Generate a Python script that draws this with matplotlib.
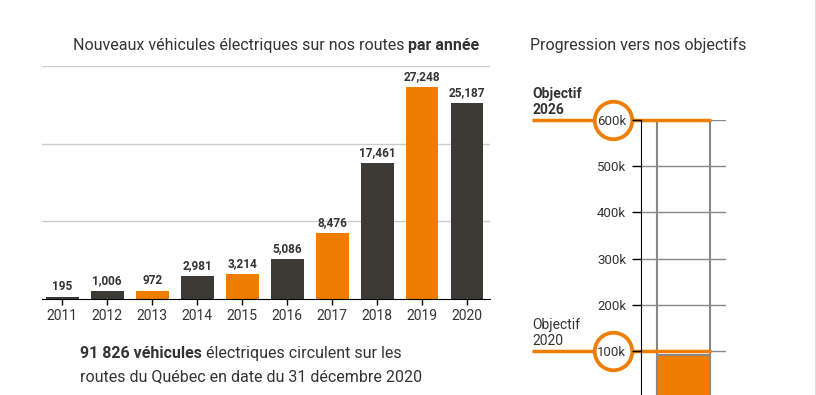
import matplotlib
matplotlib.use('Agg')
import matplotlib.pyplot as plt
from matplotlib import transforms
from matplotlib.lines import Line2D

matplotlib.rcParams['font.family'] = ['Roboto', 'DejaVu Sans']

# --- données ---
annees = [2011, 2012, 2013, 2014, 2015, 2016, 2017, 2018, 2019, 2020]
nouveaux = [195, 1006, 972, 2981, 3214, 5086, 8476, 17461, 27248, 25187]
annees_orange = [2013, 2015, 2017, 2019]
total_2020 = 91826
objectifs = [100000, 600000]
noms_objectifs = ['Objectif\n2020', 'Objectif\n2026']
graduations = [100000, 200000, 300000, 400000, 500000, 600000]

ORANGE = '#ee7d00'
FONCE = '#3d3935'
TEXTE = '#333333'
W, H = 816, 395


def px(x0, y0, x1, y1):
    return [x0 / W, 1 - y1 / H, (x1 - x0) / W, (y1 - y0) / H]


fig = plt.figure(figsize=(W / 100, H / 100), dpi=100)
fig.patch.set_facecolor('white')

# --- graphique de gauche : nouveaux véhicules par année ---
ax = fig.add_axes(px(42, 66, 490, 299))
pos = list(range(len(annees)))
couleurs = [ORANGE if a in annees_orange else FONCE for a in annees]
ax.bar(pos, nouveaux, width=0.73, color=couleurs, zorder=2)
for x, v in zip(pos, nouveaux):
    ax.annotate(f"{v:,}", (x, v), xytext=(0, 4), textcoords='offset pixels',
                ha='center', va='bottom', fontsize=8.5, fontweight='bold', color=TEXTE)

ax.set_xlim(-0.45, 9.51)
ax.set_ylim(0, 30000)
ax.set_yticks([10000, 20000, 30000])
ax.yaxis.grid(True, color='#cccccc', lw=1)
ax.set_axisbelow(True)
ax.tick_params(axis='y', length=0, labelleft=False)
ax.set_xticks(pos, [str(a) for a in annees])
ax.tick_params(axis='x', length=4, width=1, pad=3, labelsize=10, labelcolor=TEXTE)
for s in ['top', 'right', 'left']:
    ax.spines[s].set_visible(False)
ax.spines['bottom'].set_color('black')

t1 = fig.text(73 / W, 1 - 50 / H, "Nouveaux véhicules électriques sur nos routes ",
              fontsize=11.5, color=TEXTE, va='baseline')
ax.annotate("par année", xy=(1, 0), xycoords=t1, va='bottom', ha='left',
            fontsize=11.5, fontweight='bold', color=TEXTE, annotation_clip=False)

nb = f"{total_2020:,}".replace(',', ' ')
b1 = fig.text(80 / W, 1 - 358 / H, f"{nb} véhicules", fontsize=11.5,
              fontweight='bold', color=TEXTE, va='baseline')
ax.annotate(" électriques circulent sur les", xy=(1, 0), xycoords=b1, va='bottom',
            ha='left', fontsize=11.5, color=TEXTE, annotation_clip=False)
fig.text(80 / W, 1 - 381 / H, "routes du Québec en date du 31 décembre 2020",
         fontsize=11.5, color=TEXTE, va='baseline')

# --- graphique de droite : progression vers les objectifs ---
ax2 = fig.add_axes(px(641, 120, 726, 395))
ax2.set_xlim(0, 1)
ax2.set_ylim(4800, 600000)
ax2.hlines(graduations, 0, 1, color='#888888', lw=1, zorder=0.5)
ax2.bar([0.5], [objectifs[-1]], width=0.635, facecolor='none', edgecolor='#888888', lw=1.5, zorder=1)
ax2.bar([0.5], [total_2020], width=0.635, color=ORANGE, edgecolor='#888888', lw=1.5, zorder=1)
ax2.set_yticks(graduations, [f"{g // 1000}k" for g in graduations])
ax2.tick_params(axis='y', length=6.5, width=1, pad=4.3, labelsize=9.5, labelcolor=TEXTE)
ax2.tick_params(axis='x', bottom=False, labelbottom=False)
ax2.yaxis.set_zorder(3)
for s in ['top', 'right', 'bottom']:
    ax2.spines[s].set_visible(False)
ax2.spines['left'].set_color('black')
ax2.spines['left'].set_zorder(3)

tr = transforms.blended_transform_factory(ax2.transAxes, ax2.transData)
for obj, nom in zip(objectifs, noms_objectifs):
    ax2.plot([-1.28, 0.82], [obj, obj], color=ORANGE, lw=2.5, transform=tr,
             clip_on=False, zorder=2, solid_capstyle='butt')
    ax2.plot([-0.33], [obj], marker='o', ms=27, mfc='white', mec=ORANGE, mew=2.7,
             transform=tr, clip_on=False, zorder=2.2)
    ax2.annotate(nom, xy=(-1.28, obj), xycoords=tr, xytext=(0, 3), textcoords='offset pixels',
                 ha='left', va='bottom', fontsize=10, color=TEXTE, linespacing=1.15,
                 fontweight='bold' if obj == objectifs[-1] else 'normal', annotation_clip=False)

fig.text(530 / W, 1 - 50 / H, "Progression vers nos objectifs", fontsize=11.5,
         color=TEXTE, va='baseline')

fig.add_artist(Line2D([815.5 / W] * 2, [0, 1], color='#dddddd', lw=1.5, transform=fig.transFigure))

fig.savefig('out.png', dpi=100, facecolor='white')
